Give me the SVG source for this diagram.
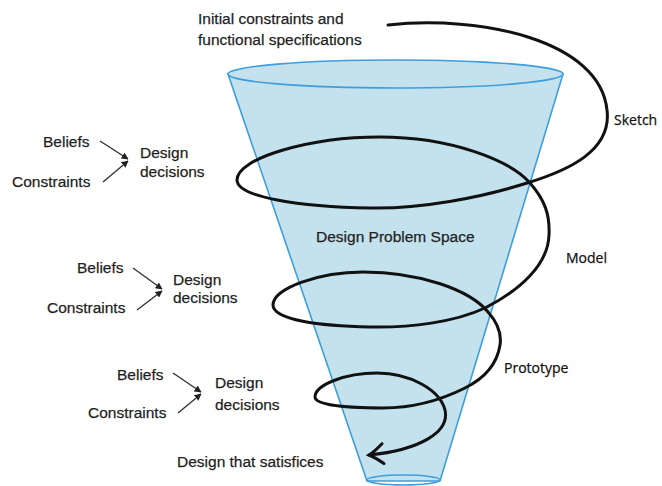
<svg xmlns="http://www.w3.org/2000/svg" width="662" height="486" viewBox="0 0 662 486">
<defs>
<style>
.t{font-family:"Liberation Sans",Arial,sans-serif;font-size:15.5px;fill:#1f1f1f;stroke:#1f1f1f;stroke-width:0.25}
.c{font-family:"Open Sans","Liberation Sans",sans-serif;font-size:14px;fill:#111;stroke:#111;stroke-width:0.25}
.cone{fill:#c3e2ee;stroke:#3f9ddc;stroke-width:1.6}
.sp{fill:none;stroke:#111;stroke-width:3;stroke-linecap:round}
.ln{fill:none;stroke:#333;stroke-width:1.4}
</style>
<marker id="sm" viewBox="0 0 10 10" refX="9" refY="5" markerWidth="7" markerHeight="7" markerUnits="userSpaceOnUse" orient="auto">
<path d="M0,0 L10,5 L0,10 z" fill="#222"/>
</marker>
<marker id="big" viewBox="-16 -12 20 24" refX="0" refY="0" markerWidth="20" markerHeight="24" markerUnits="userSpaceOnUse" orient="auto">
<path d="M-14,-10 Q-6,-3 0,0 Q-6,3 -14,10" fill="none" stroke="#111" stroke-width="3" stroke-linecap="round"/>
</marker>
</defs>
<rect width="662" height="486" fill="#fff"/>
<g id="cone">
<polygon class="cone" points="228,74 563,74 440,481 367,481"/>
<ellipse class="cone" cx="395.5" cy="74" rx="167.5" ry="14"/>
<ellipse cx="403.5" cy="480" rx="36.5" ry="5" fill="none" stroke="#3f9ddc" stroke-width="1.6"/>
<text class="t" x="316" y="242" font-size="16">Design Problem Space</text>
</g>
<g id="connectors">
<path class="sp" marker-end="url(#big)" d="M388,25 C480,15 600,40 607,110 C612,150 570,170 527,183 C480,198 420,209 370,208 C300,207 237,197 237,180 C237,158 310,137 380,137 C450,137 510,160 530,183 C545,200 550,215 549,235 C548,265 520,290 485,308 C455,322 410,328 370,327 C320,326 273,320 273,305 C273,288 320,272 363,272 C420,272 470,290 488,312 C497,322 502,332 500,345 C497,365 485,378 465,388 C445,398 415,408 383,408 C345,408 315,405 315,397 C315,385 345,373 377,373 C410,373 440,390 445,410 C450,432 420,450 369,455"/>
<line class="ln" x1="100" y1="141" x2="128" y2="159" marker-end="url(#sm)"/>
<line class="ln" x1="103" y1="182" x2="128" y2="161" marker-end="url(#sm)"/>
<line class="ln" x1="133" y1="268" x2="162" y2="289" marker-end="url(#sm)"/>
<line class="ln" x1="137" y1="310" x2="162" y2="291" marker-end="url(#sm)"/>
<line class="ln" x1="173" y1="373" x2="201" y2="392" marker-end="url(#sm)"/>
<line class="ln" x1="178" y1="413" x2="201" y2="394" marker-end="url(#sm)"/>
</g>
<g id="initial">
<text class="t" x="198" y="24" font-size="16">Initial constraints and</text>
<text class="t" x="198" y="45" font-size="16">functional specifications</text>
</g>
<g id="sketch"><text class="c" x="614" y="125">Sketch</text></g>
<g id="model"><text class="c" x="566" y="263" font-size="15">Model</text></g>
<g id="prototype"><text class="c" x="504" y="373" font-size="15">Prototype</text></g>
<g id="group1">
<text class="t" x="43" y="147">Beliefs</text>
<text class="t" x="12" y="187">Constraints</text>
<text class="t" x="140" y="158">Design</text>
<text class="t" x="140" y="177">decisions</text>
</g>
<g id="group2">
<text class="t" x="77" y="273">Beliefs</text>
<text class="t" x="47" y="313">Constraints</text>
<text class="t" x="173" y="285">Design</text>
<text class="t" x="173" y="303">decisions</text>
</g>
<g id="group3">
<text class="t" x="117" y="380">Beliefs</text>
<text class="t" x="88" y="418">Constraints</text>
<text class="t" x="215" y="388">Design</text>
<text class="t" x="215" y="410">decisions</text>
</g>
<g id="result"><text class="t" x="177" y="467">Design that satisfices</text></g>
</svg>
